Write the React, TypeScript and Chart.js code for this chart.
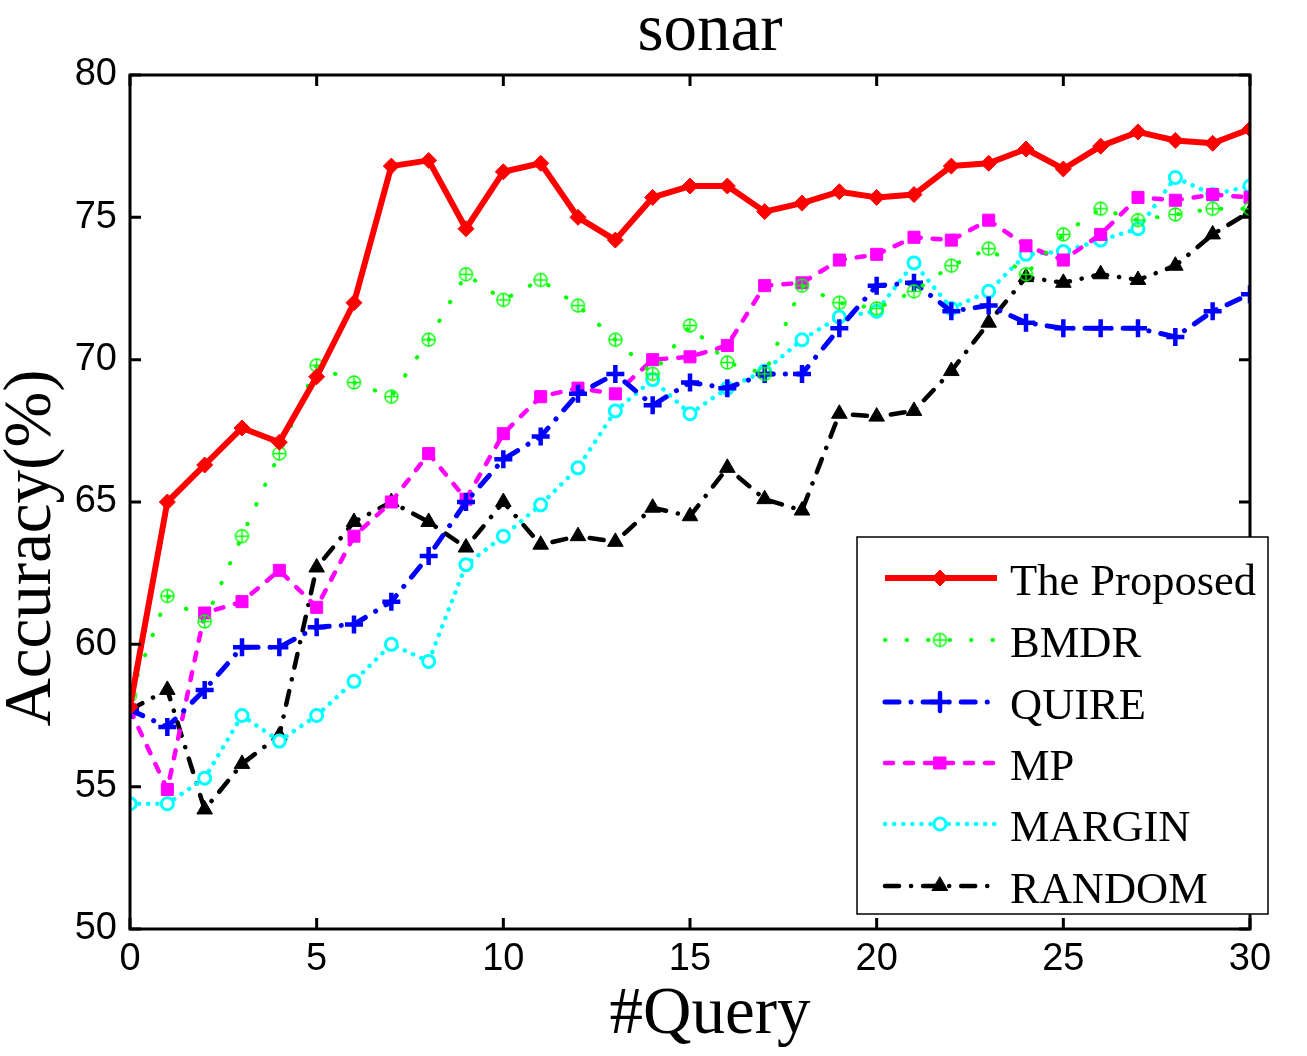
import React, { useEffect, useRef } from "react";
import { Chart, registerables } from "chart.js";
import { drawPoint } from "chart.js/helpers";

Chart.register(...registerables);

const QUERIES = [0, 1, 2, 3, 4, 5, 6, 7, 8, 9, 10, 11, 12, 13, 14, 15, 16, 17, 18, 19, 20, 21, 22, 23, 24, 25, 26, 27, 28, 29, 30];

const PROPOSED = [57.8, 65.0, 66.3, 67.6, 67.1, 69.4, 72.0, 76.8, 77.0, 74.6, 76.6, 76.9, 75.0, 74.2, 75.7, 76.1, 76.1, 75.2, 75.5, 75.9, 75.7, 75.8, 76.8, 76.9, 77.4, 76.7, 77.5, 78.0, 77.7, 77.6, 78.1];
const BMDR = [58.2, 61.7, 60.8, 63.8, 66.7, 69.8, 69.2, 68.7, 70.7, 73.0, 72.1, 72.8, 71.9, 70.7, 69.5, 71.2, 69.9, 69.5, 72.6, 72.0, 71.8, 72.4, 73.3, 73.9, 73.0, 74.4, 75.3, 74.9, 75.1, 75.3, 75.3];
const QUIRE = [57.7, 57.1, 58.4, 59.9, 59.9, 60.6, 60.7, 61.5, 63.1, 65.0, 66.5, 67.3, 68.8, 69.5, 68.4, 69.2, 69.0, 69.5, 69.5, 71.1, 72.6, 72.7, 71.7, 71.9, 71.3, 71.1, 71.1, 71.1, 70.8, 71.7, 72.3];
const MP = [57.7, 54.9, 61.1, 61.5, 62.6, 61.3, 63.8, 65.0, 66.7, 65.1, 67.4, 68.7, 69.0, 68.8, 70.0, 70.1, 70.5, 72.6, 72.7, 73.5, 73.7, 74.3, 74.2, 74.9, 74.0, 73.5, 74.4, 75.7, 75.6, 75.8, 75.7];
const MARGIN = [54.4, 54.4, 55.3, 57.5, 56.6, 57.5, 58.7, 60.0, 59.4, 62.8, 63.8, 64.9, 66.2, 68.2, 69.3, 68.1, 69.0, 69.6, 70.7, 71.5, 71.7, 73.4, 71.8, 72.4, 73.7, 73.8, 74.2, 74.6, 76.4, 75.8, 76.1];
const RANDOM = [57.7, 58.4, 54.2, 55.8, 56.8, 62.7, 64.3, 65.0, 64.3, 63.4, 65.0, 63.5, 63.8, 63.6, 64.8, 64.5, 66.2, 65.1, 64.7, 68.1, 68.0, 68.2, 69.6, 71.3, 72.9, 72.7, 73.0, 72.8, 73.3, 74.4, 75.2];

const SERIES_NAMES = ["The Proposed", "BMDR", "QUIRE", "MP", "MARGIN", "RANDOM"];
const TITLE = "sonar";
const X_TITLE = "#Query";
const Y_TITLE = "Accuracy(%)";

function makeOplus(): HTMLCanvasElement {
  const c = document.createElement("canvas");
  c.width = 17;
  c.height = 17;
  const g = c.getContext("2d")!;
  g.strokeStyle = "#00ff00";
  g.lineWidth = 1.4;
  g.beginPath();
  g.arc(8.5, 8.5, 6.5, 0, Math.PI * 2);
  g.stroke();
  g.beginPath();
  g.moveTo(8.5, 2);
  g.lineTo(8.5, 15);
  g.moveTo(2, 8.5);
  g.lineTo(15, 8.5);
  g.stroke();
  return c;
}

export default function App() {
  const ref = useRef<HTMLCanvasElement>(null);

  useEffect(() => {
    const oplus = makeOplus();
    const toPts = (arr: number[]) => QUERIES.map((q, i) => ({ x: q, y: arr[i] }));

    const datasets: any[] = [
      {
        label: SERIES_NAMES[0], data: toPts(PROPOSED), borderColor: "#ff0000", backgroundColor: "#ff0000",
        borderWidth: 6, borderDash: [], pointStyle: "rectRot", pointRadius: 8, pointBorderWidth: 1,
        pointBackgroundColor: "#ff0000", pointBorderColor: "#ff0000",
      },
      {
        label: SERIES_NAMES[1], data: toPts(BMDR), borderColor: "#00ff00", backgroundColor: "#00ff00",
        borderWidth: 4, borderDash: [0.5, 21], borderCapStyle: "round", pointStyle: oplus, pointRadius: 8,
      },
      {
        label: SERIES_NAMES[2], data: toPts(QUIRE), borderColor: "#0000ff", backgroundColor: "#0000ff",
        borderWidth: 5, borderDash: [14, 12, 0.1, 12], borderCapStyle: "round", pointStyle: "cross", pointRadius: 9,
        pointBorderWidth: 4.5, pointBorderColor: "#0000ff",
      },
      {
        label: SERIES_NAMES[3], data: toPts(MP), borderColor: "#ff00ff", backgroundColor: "#ff00ff",
        borderWidth: 4.5, borderDash: [8, 12], borderCapStyle: "round", pointStyle: "rect", pointRadius: 8.5,
        pointBorderWidth: 1, pointBackgroundColor: "#ff00ff", pointBorderColor: "#ff00ff",
      },
      {
        label: SERIES_NAMES[4], data: toPts(MARGIN), borderColor: "#00ffff", backgroundColor: "#ffffff",
        borderWidth: 4.5, borderDash: [0.1, 9], borderCapStyle: "round", pointStyle: "circle", pointRadius: 6,
        pointBorderWidth: 3, pointBackgroundColor: "#ffffff", pointBorderColor: "#00ffff",
      },
      {
        label: SERIES_NAMES[5], data: toPts(RANDOM), borderColor: "#000000", backgroundColor: "#000000",
        borderWidth: 4.5, borderDash: [14, 12, 0.1, 12], borderCapStyle: "round", pointStyle: "triangle", pointRadius: 9,
        pointBorderWidth: 1, pointBackgroundColor: "#000000", pointBorderColor: "#000000",
      },
    ];
    datasets.forEach((d) => {
      d.fill = false;
      d.tension = 0;
      d.borderJoinStyle = "round";
    });

    const decor = {
      id: "decor",
      afterDatasetsDraw(chart: any) {
        const { ctx, chartArea } = chart;
        const { left, right, top, bottom } = chartArea;
        const xs = chart.scales.x;
        const ys = chart.scales.y;
        ctx.save();
        ctx.strokeStyle = "#000";
        ctx.lineWidth = 3;
        ctx.setLineDash([]);
        ctx.strokeRect(left, top, right - left, bottom - top);
        const tl = 11;
        xs.ticks.forEach((t: any) => {
          const px = xs.getPixelForValue(t.value);
          ctx.beginPath();
          ctx.moveTo(px, bottom);
          ctx.lineTo(px, bottom - tl);
          ctx.moveTo(px, top);
          ctx.lineTo(px, top + tl);
          ctx.stroke();
        });
        ys.ticks.forEach((t: any) => {
          const py = ys.getPixelForValue(t.value);
          ctx.beginPath();
          ctx.moveTo(left, py);
          ctx.lineTo(left + tl, py);
          ctx.moveTo(right, py);
          ctx.lineTo(right - tl, py);
          ctx.stroke();
        });
        ctx.restore();
      },
      afterDraw(chart: any) {
        const { ctx } = chart;
        ctx.save();
        ctx.fillStyle = "#000";
        ctx.textAlign = "center";
        ctx.textBaseline = "alphabetic";
        ctx.font = "67px 'Liberation Serif'";
        ctx.fillText(TITLE, 710, 50);
        ctx.fillText(X_TITLE, 710, 1033);
        ctx.save();
        ctx.translate(50, 548);
        ctx.rotate(-Math.PI / 2);
        ctx.fillText(Y_TITLE, 0, 0);
        ctx.restore();

        const lx = 857, ly = 537, lw = 411, lh = 377;
        ctx.fillStyle = "#fff";
        ctx.fillRect(lx, ly, lw, lh);
        ctx.strokeStyle = "#000";
        ctx.lineWidth = 1.5;
        ctx.setLineDash([]);
        ctx.strokeRect(lx, ly, lw, lh);
        const rows = [578, 640, 702, 763, 824, 886];
        chart.data.datasets.forEach((d: any, i: number) => {
          const cy = rows[i];
          ctx.save();
          ctx.strokeStyle = d.borderColor;
          ctx.lineWidth = d.borderWidth;
          ctx.lineCap = d.borderCapStyle || "butt";
          ctx.setLineDash(d.borderDash || []);
          ctx.beginPath();
          ctx.moveTo(885, cy);
          ctx.lineTo(997, cy);
          ctx.stroke();
          ctx.setLineDash([]);
          ctx.fillStyle = d.pointBackgroundColor || d.borderColor;
          ctx.strokeStyle = d.pointBorderColor || d.borderColor;
          ctx.lineWidth = d.pointBorderWidth || 1;
          drawPoint(ctx, {
            pointStyle: d.pointStyle,
            radius: d.pointRadius,
            borderWidth: d.pointBorderWidth || 1,
            rotation: 0,
          } as any, 940, cy);
          ctx.restore();
          ctx.fillStyle = "#000";
          ctx.textAlign = "left";
          ctx.textBaseline = "alphabetic";
          ctx.font = "44.5px 'Liberation Serif'";
          ctx.fillText(d.label, 1010, cy + 17);
        });
        ctx.restore();
      },
    };

    const tickFont = { family: "'Liberation Sans'", size: 38 };
    const chart = new Chart(ref.current!, {
      type: "line",
      data: { datasets },
      options: {
        responsive: false,
        devicePixelRatio: 1,
        animation: false,
        layout: { padding: { top: 75, right: 57, left: 0, bottom: 0 } },
        plugins: { legend: { display: false }, title: { display: false }, tooltip: { enabled: false } },
        scales: {
          x: {
            type: "linear", min: 0, max: 30,
            ticks: { stepSize: 5, font: tickFont, color: "#000", padding: 8, maxRotation: 0, autoSkip: false },
            grid: { display: false, drawTicks: false },
            border: { display: false },
            afterFit: (s: any) => { s.height = 127; },
          },
          y: {
            type: "linear", min: 50, max: 80,
            ticks: { stepSize: 5, font: tickFont, color: "#000", padding: 13 },
            grid: { display: false, drawTicks: false },
            border: { display: false },
            afterFit: (s: any) => { s.width = 130; },
          },
        },
      } as any,
      plugins: [decor],
    });
    return () => chart.destroy();
  }, []);

  return (
    <div style={{ position: "absolute", left: 0, top: 0, width: 1307, height: 1056, background: "#fff" }}>
      <canvas ref={ref} width={1307} height={1056} style={{ display: "block" }} />
    </div>
  );
}
